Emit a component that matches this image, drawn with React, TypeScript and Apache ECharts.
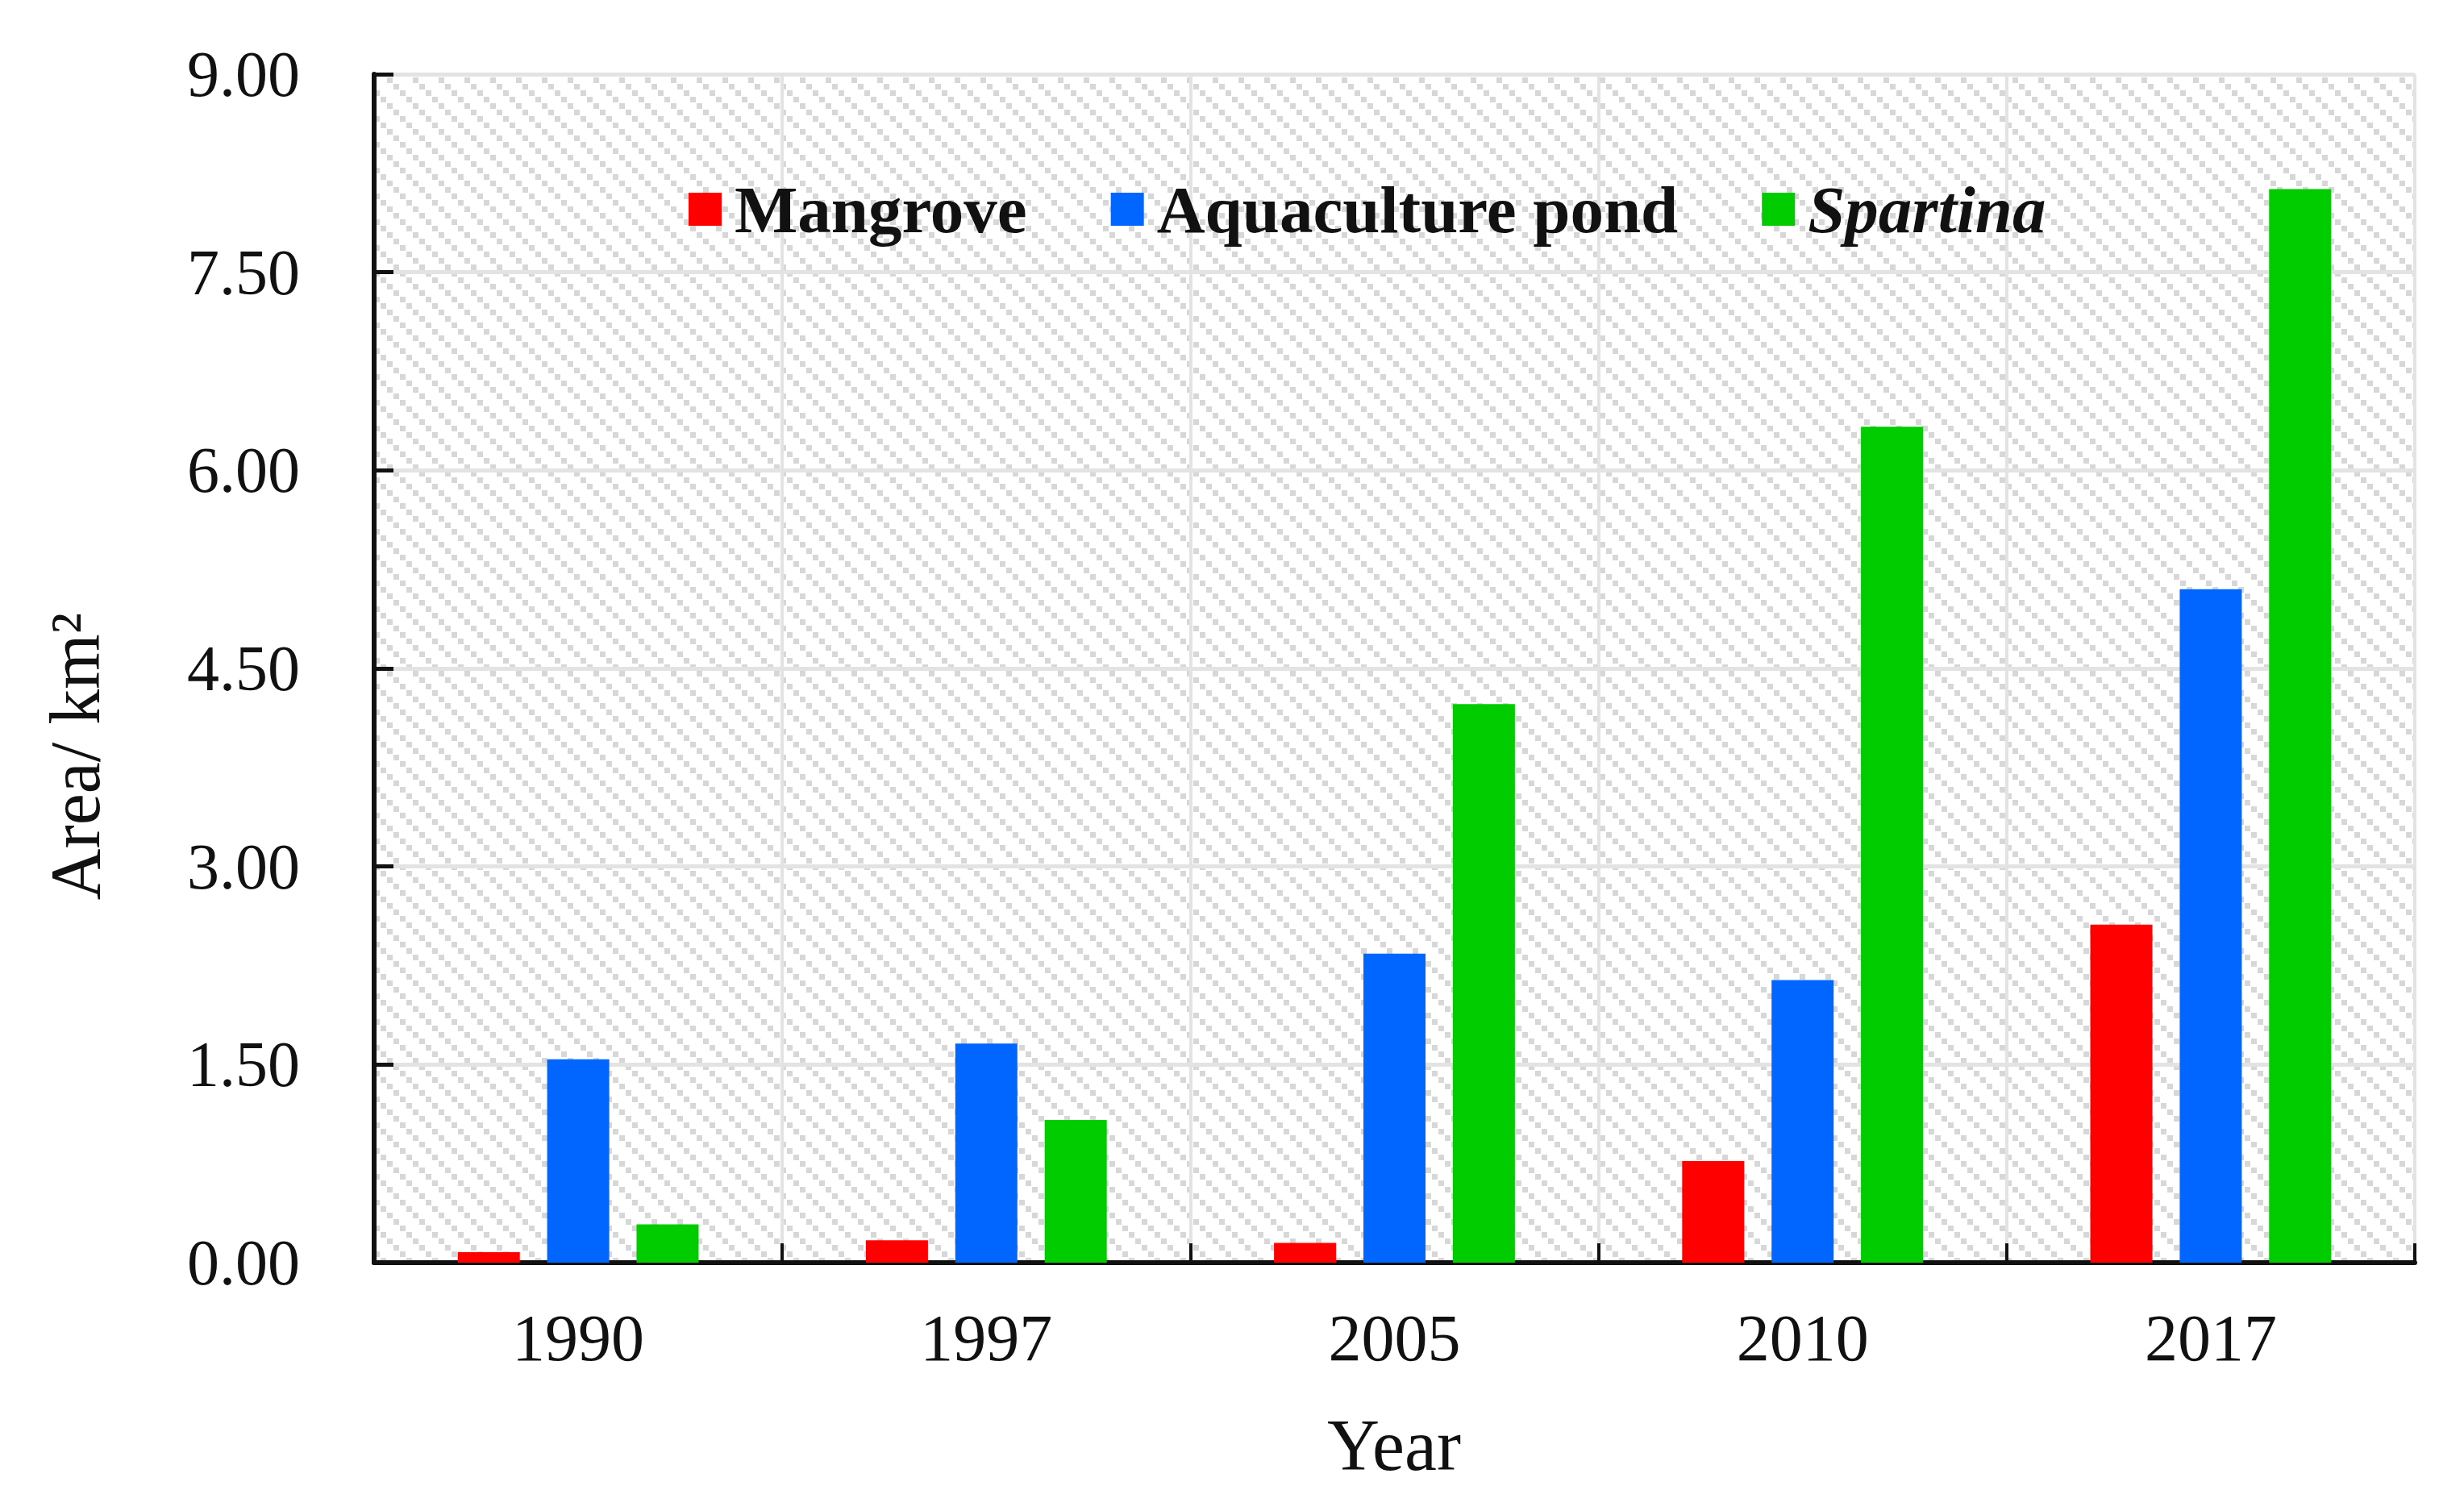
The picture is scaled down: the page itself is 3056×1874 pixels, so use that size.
import React, { useEffect, useRef } from "react";
import * as echarts from "echarts";

const years = ["1990", "1997", "2005", "2010", "2017"];
const seriesNames = ["Mangrove", "Aquaculture pond", "Spartina"];
const mangrove = [0.08, 0.17, 0.15, 0.77, 2.56];
const aquaculture = [1.54, 1.66, 2.34, 2.14, 5.1];
const spartina = [0.29, 1.08, 4.23, 6.33, 8.13];
const colors = ["#ff0000", "#0066ff", "#00cc00"];
const yMin = 0;
const yMax = 9;
const yInterval = 1.5;

const FONT = '"Liberation Serif", "Times New Roman", serif';

function makeHatch(): HTMLCanvasElement {
  const c = document.createElement("canvas");
  c.width = 32;
  c.height = 32;
  const ctx = c.getContext("2d")!;
  ctx.fillStyle = "#ffffff";
  ctx.fillRect(0, 0, 32, 32);
  ctx.fillStyle = "#d7d7d7";
  for (let i = 0; i < 4; i++) {
    ctx.fillRect(i * 8, i * 8, 7, 7);
  }
  return c;
}

export default function App() {
  const ref = useRef<HTMLDivElement>(null);
  useEffect(() => {
    if (!ref.current) return;
    const chart = echarts.init(ref.current, null, { renderer: "svg" });
    const hatch = makeHatch();
    const data = [mangrove, aquaculture, spartina];
    const option: any = {
      animation: false,
      backgroundColor: "#ffffff",
      grid: {
        left: 464,
        right: 61,
        top: 92,
        bottom: 308,
        show: true,
        borderWidth: 0,
        backgroundColor: {
          image: hatch,
          repeat: "repeat",
          imageWidth: 32,
          imageHeight: 32,
        },
      },
      legend: {
        left: 849,
        top: 213,
        itemWidth: 41,
        itemHeight: 41,
        itemGap: 104,
        icon: "rect",
        data: seriesNames,
        textStyle: {
          fontFamily: FONT,
          fontWeight: "bold",
          fontSize: 83,
          color: "#111111",
          padding: [0, 0, 0, 11],
          rich: {
            it: {
              fontFamily: FONT,
              fontWeight: "bold",
              fontStyle: "italic",
              fontSize: 83,
              color: "#111111",
            },
          },
        },
        formatter: (name: string) => (name === "Spartina" ? "{it|Spartina}" : name),
      },
      xAxis: {
        type: "category",
        data: years,
        axisLine: { show: true, lineStyle: { color: "#111111", width: 6 } },
        axisTick: { show: true, inside: true, length: 24, lineStyle: { color: "#111111", width: 4 } },
        axisLabel: { fontFamily: FONT, fontSize: 82, color: "#111111", margin: 52 },
        splitLine: { show: true, lineStyle: { color: "#e3e3e3", width: 4 } },
      },
      yAxis: {
        type: "value",
        min: yMin,
        max: yMax,
        interval: yInterval,
        axisLine: { show: true, lineStyle: { color: "#111111", width: 6 } },
        axisTick: { show: true, inside: true, length: 24, lineStyle: { color: "#111111", width: 5 } },
        axisLabel: {
          fontFamily: FONT,
          fontSize: 80,
          color: "#111111",
          margin: 92,
          formatter: (v: number) => v.toFixed(2),
        },
        splitLine: { show: true, lineStyle: { color: "#e3e3e3", width: 5 } },
      },
      series: seriesNames.map((n, i) => ({
        name: n,
        type: "bar",
        data: data[i],
        barWidth: 77,
        barGap: "44%",
        itemStyle: { color: colors[i] },
      })),
      graphic: [
        {
          type: "text",
          x: 93,
          y: 938,
          rotation: Math.PI / 2,
          style: {
            text: "Area/ km²",
            fontFamily: FONT,
            fontSize: 88,
            fill: "#111111",
            align: "center",
            verticalAlign: "middle",
            textAlign: "center",
            textVerticalAlign: "middle",
          },
        },
        {
          type: "text",
          x: 1729,
          y: 1792,
          style: {
            text: "Year",
            fontFamily: FONT,
            fontSize: 90,
            fill: "#111111",
            align: "center",
            verticalAlign: "middle",
            textAlign: "center",
            textVerticalAlign: "middle",
          },
        },
      ],
    };
    chart.setOption(option);
    return () => chart.dispose();
  }, []);
  return (
    <div
      ref={ref}
      style={{ position: "absolute", left: 0, top: 0, width: 3056, height: 1874 }}
    />
  );
}
